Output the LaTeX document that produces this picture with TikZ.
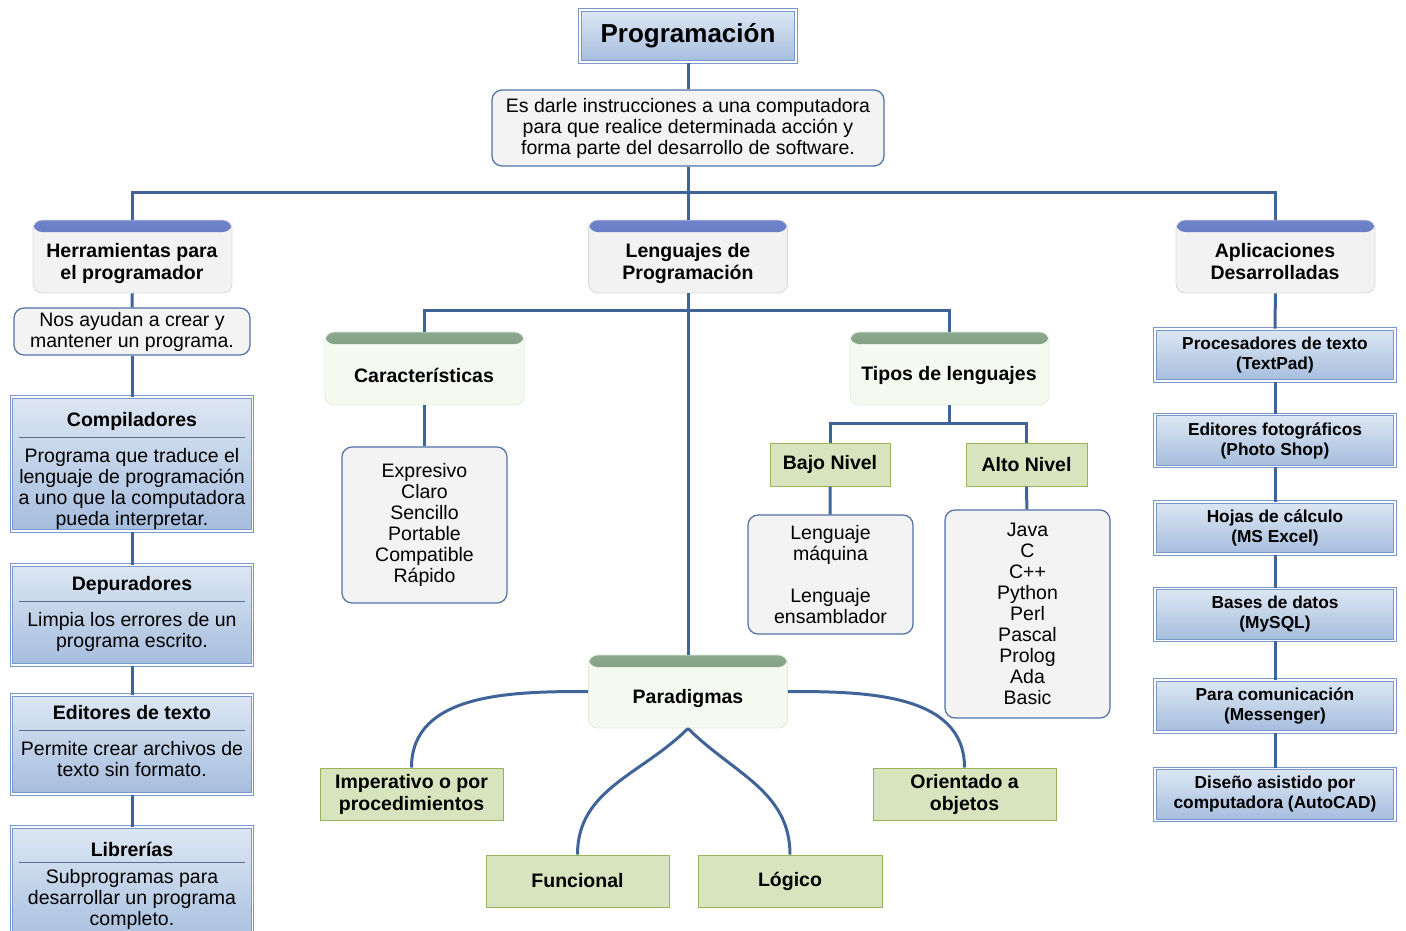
\documentclass[tikz,border=0pt]{standalone}
\usepackage{fontspec}
\setmainfont{Liberation Sans}
\usetikzlibrary{arrows,calc}

\definecolor{linkblue}{RGB}{64,100,152}
\definecolor{noteedge}{RGB}{80,112,165}
\definecolor{notefill}{RGB}{243,243,243}
\definecolor{boxtop}{RGB}{221,231,243}
\definecolor{boxbot}{RGB}{165,189,222}
\definecolor{boxedge}{RGB}{120,152,204}
\definecolor{greenfill}{RGB}{215,228,189}
\definecolor{greenedge}{RGB}{150,180,90}
\definecolor{bandbtop}{RGB}{112,132,204}
\definecolor{bandbbot}{RGB}{70,95,172}
\definecolor{bandgtop}{RGB}{140,168,142}
\definecolor{bandgbot}{RGB}{92,128,98}
\definecolor{headfill}{RGB}{242,242,242}
\definecolor{headedge}{RGB}{218,218,218}
\definecolor{gheadfill}{RGB}{245,250,240}
\definecolor{gheadedge}{RGB}{226,236,218}
\definecolor{sepcol}{RGB}{90,110,145}

\newcommand{\txtfont}{\fontsize{19.5}{21}\selectfont}
\newcommand{\hdfont}{\fontsize{19.5}{22}\selectfont\bfseries}
\newcommand{\appfont}{\fontsize{17.3}{20}\selectfont\bfseries}
\newcommand{\seprule}{\textcolor{sepcol}{\rule[1pt]{226pt}{0.9pt}}}

\begin{document}
\begin{tikzpicture}[x=1pt,y=-1pt,
  link/.style={draw=linkblue,line width=3pt},
  title node/.style={rectangle,draw=boxedge,line width=1pt,double=white,double distance=1.5pt,
    top color=boxtop,bottom color=boxbot,minimum width=216pt,minimum height=52pt,
    font=\fontsize{26}{30}\selectfont\bfseries},
  note node/.style={rectangle,rounded corners=10pt,draw=noteedge,line width=1.2pt,fill=notefill,
    align=center,inner sep=0pt,font=\txtfont},
  tool box/.style={rectangle,draw=boxedge,line width=1pt,double=white,double distance=1.5pt,
    top color=boxtop,bottom color=boxbot,minimum width=241pt,inner sep=0pt},
  app node/.style={tool box,minimum width=240pt,minimum height=52pt,align=center,font=\appfont},
  box text/.style={anchor=north,align=center,inner sep=0pt,font=\txtfont},
  head blue/.style={rectangle,rounded corners=9pt,draw=headedge,line width=0.8pt,fill=headfill,
    minimum width=199pt,minimum height=73pt,inner sep=0pt,
    path picture={\shade[top color=bandbtop,bottom color=bandbbot]
      (path picture bounding box.north west) rectangle ([yshift=-12pt]path picture bounding box.north east);}},
  head green/.style={head blue,draw=gheadedge,fill=gheadfill,
    path picture={\shade[top color=bandgtop,bottom color=bandgbot]
      (path picture bounding box.north west) rectangle ([yshift=-12pt]path picture bounding box.north east);}},
  head text/.style={align=center,inner sep=0pt,font=\hdfont},
  green node/.style={rectangle,draw=greenedge,line width=1pt,fill=greenfill,
    minimum width=183pt,minimum height=52pt,inner sep=0pt,align=center,font=\hdfont}]

\useasboundingbox (0,0) rectangle (1406,930);

% top
\node[title node](prog) at (688,36) {Programación};
\node[note node,minimum width=392pt,minimum height=76pt](desc) at (688,128)
  {Es darle instrucciones a una computadora\\para que realice determinada acción y\\forma parte del desarrollo de software.};

\node[head blue](herr) at (132.5,256.5) {};
\node[head text](herrt) at (132,263) {Herramientas para\\el programador};
\node[head blue](len) at (688,256.5) {};
\node[head text](lent) at (688,263) {Lenguajes de\\Programación};
\node[head blue](apl) at (1275.5,256.5) {};
\node[head text](aplt) at (1275,262) {Aplicaciones\\Desarrolladas};

% left column
\node[note node,minimum width=236pt,minimum height=47pt](nos) at (132,331.5)
  {Nos ayudan a crear y\\mantener un programa.};
\node[tool box,minimum height=134pt](comp) at (132,464) {};
\node[box text](compt) at (132,412.5) {\textbf{Compiladores}\\[-9pt]\seprule\\[3pt]Programa que traduce el\\lenguaje de programación\\a uno que la computadora\\pueda interpretar.};
\node[tool box,minimum height=100pt](dep) at (132,615) {};
\node[box text](dept) at (132,576.5) {\textbf{Depuradores}\\[-9pt]\seprule\\[3pt]Limpia los errores de un\\programa escrito.};
\node[tool box,minimum height=99pt](edit) at (132,744.5) {};
\node[box text](editt) at (132,705.5) {\textbf{Editores de texto}\\[-9pt]\seprule\\[3pt]Permite crear archivos de\\texto sin formato.};
\node[tool box,minimum height=122pt](lib) at (132,888) {};
\node[box text](libt) at (132,841.5) {\textbf{Librerías}\\[-13pt]\seprule\\[-2pt]Subprogramas para\\desarrollar un programa\\completo.};

% middle
\node[head green](car) at (424.5,368.5) {};
\node[head text](cart) at (424,375) {Características};
\node[note node,minimum width=165pt,minimum height=156pt](carl) at (424.5,525)
  {Expresivo\\Claro\\Sencillo\\Portable\\Compatible\\Rápido};
\node[head green](tip) at (949.5,368.5) {};
\node[head text](tipt) at (949,375) {Tipos de lenguajes};
\node[green node,minimum width=120pt,minimum height=43pt](bajo) at (830,464.5) {Bajo Nivel};
\node[green node,minimum width=121pt,minimum height=43pt](alto) at (1026.5,464.5) {Alto Nivel};
\node[note node,minimum width=165pt,minimum height=119pt](bajol) at (830.5,574.5)
  {Lenguaje\\máquina\\[21pt]Lenguaje\\ensamblador};
\node[note node,minimum width=165pt,minimum height=208pt](altol) at (1027.5,614)
  {Java\\C\\C++\\Python\\Perl\\Pascal\\Prolog\\Ada\\Basic};

\node[head green](par) at (688,691.5) {};
\node[head text](part) at (688,698) {Paradigmas};
\node[green node](imp) at (411.5,794) {Imperativo o por\\procedimientos};
\node[green node](ori) at (964.5,794) {Orientado a\\objetos};
\node[green node](fun) at (577.5,881) {Funcional};
\node[green node,minimum width=184pt](log) at (790,881) {Lógico};

% right column
\node[app node](proc) at (1275,355) {Procesadores de texto\\(TextPad)};
\node[app node](foto) at (1275,440.5) {Editores fotográficos\\(Photo Shop)};
\node[app node](hoja) at (1275,528) {Hojas de cálculo\\(MS Excel)};
\node[app node](bd) at (1275,614.5) {Bases de datos\\(MySQL)};
\node[app node](msn) at (1275,706) {Para comunicación\\(Messenger)};
\node[app node](cad) at (1275,794.5) {Diseño asistido por\\computadora (AutoCAD)};

\draw[link] (prog) -- (desc);
\draw[link] (desc) -- (len);
\draw[link] (herr.north) -- ++(0,-27) -| (apl.north);
\draw[link] (herr) edge (nos) (nos) edge (comp) (comp) edge (dep) (dep) edge (edit) (edit) edge (lib);
\draw[link] (len) -- (par);
\draw[link] (car.north) -- ++(0,-21) -| (tip.north);
\draw[link] (car) -- (carl);
\draw[link] (tip.south) -- ++(0,18) -| (bajo.north);
\draw[link] (tip.south) -- ++(0,18) -| (alto.north);
\draw[link] (bajo) edge (bajol) (alto) edge (altol);
\draw[link] (par.west) to[out=180,in=90] (imp.north);
\draw[link] (par.east) to[out=0,in=90] (ori.north);
\draw[link] (par.south) to[out=-135,in=90] (fun.north);
\draw[link] (par.south) to[out=-45,in=90] (log.north);
\draw[link] (apl) edge (proc) (proc) edge (foto) (foto) edge (hoja) (hoja) edge (bd) (bd) edge (msn) (msn) edge (cad);
\end{tikzpicture}
\end{document}
